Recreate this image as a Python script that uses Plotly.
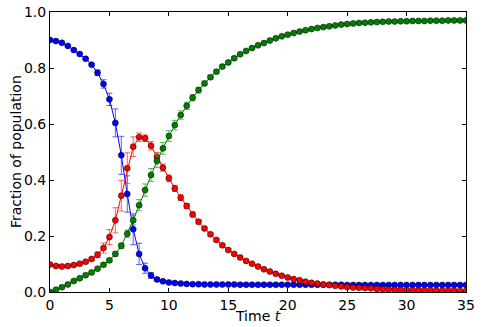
import numpy as np
import plotly.graph_objects as go

# time grid, step 0.5
t = np.arange(0, 35.5, 0.5)

susceptible = [0.900, 0.896, 0.890, 0.879, 0.864, 0.850, 0.833, 0.812, 0.783, 0.743,
               0.688, 0.604, 0.488, 0.350, 0.224, 0.136, 0.085, 0.059, 0.045, 0.038,
               0.034, 0.032, 0.030, 0.029, 0.028, 0.028, 0.027, 0.027, 0.027, 0.027,
               0.027, 0.027, 0.026, 0.026, 0.026, 0.026, 0.026, 0.026, 0.026, 0.026,
               0.026, 0.026, 0.026, 0.026, 0.026, 0.026, 0.026, 0.026, 0.026, 0.026,
               0.025, 0.025, 0.025, 0.025, 0.025, 0.025, 0.025, 0.025, 0.025, 0.025,
               0.025, 0.025, 0.025, 0.025, 0.025, 0.025, 0.025, 0.025, 0.025, 0.025,
               0.025]
susceptible_err = [0.002, 0.002, 0.002, 0.002, 0.002, 0.003, 0.003, 0.004, 0.010, 0.015,
                   0.022, 0.050, 0.068, 0.065, 0.055, 0.038, 0.018, 0.010, 0.006, 0.004,
                   0.003, 0.003, 0.002, 0.002, 0.002, 0.002, 0.002, 0.002, 0.002, 0.002,
                   0.002, 0.002, 0.002, 0.002, 0.002, 0.002, 0.002, 0.002, 0.002, 0.002,
                   0.002, 0.002, 0.002, 0.002, 0.002, 0.002, 0.002, 0.002, 0.002, 0.002,
                   0.002, 0.002, 0.002, 0.002, 0.002, 0.002, 0.002, 0.002, 0.002, 0.002,
                   0.002, 0.002, 0.002, 0.002, 0.002, 0.002, 0.002, 0.002, 0.002, 0.002,
                   0.002]

infected = [0.098, 0.093, 0.091, 0.093, 0.096, 0.101, 0.108, 0.118, 0.133, 0.157,
            0.196, 0.256, 0.344, 0.442, 0.519, 0.553, 0.549, 0.522, 0.483, 0.444,
            0.406, 0.370, 0.337, 0.307, 0.277, 0.251, 0.227, 0.206, 0.186, 0.167,
            0.150, 0.136, 0.123, 0.111, 0.101, 0.091, 0.081, 0.073, 0.065, 0.058,
            0.052, 0.046, 0.042, 0.037, 0.033, 0.030, 0.027, 0.025, 0.022, 0.020,
            0.018, 0.016, 0.015, 0.014, 0.013, 0.011, 0.010, 0.009, 0.008, 0.008,
            0.007, 0.007, 0.006, 0.006, 0.006, 0.005, 0.005, 0.005, 0.005, 0.004,
            0.004]
infected_err = [0.004, 0.004, 0.004, 0.004, 0.004, 0.004, 0.004, 0.006, 0.010, 0.018,
                0.027, 0.045, 0.055, 0.055, 0.035, 0.015, 0.012, 0.015, 0.015, 0.013,
                0.012, 0.011, 0.010, 0.009, 0.009, 0.008, 0.007, 0.007, 0.006, 0.006,
                0.005, 0.005, 0.005, 0.004, 0.004, 0.004, 0.004, 0.003, 0.003, 0.003,
                0.003, 0.003, 0.003, 0.002, 0.002, 0.002, 0.002, 0.002, 0.002, 0.002,
                0.002, 0.002, 0.002, 0.002, 0.002, 0.002, 0.002, 0.002, 0.002, 0.002,
                0.002, 0.002, 0.002, 0.002, 0.002, 0.002, 0.002, 0.002, 0.002, 0.002,
                0.002]

recovered = [0.000, 0.008, 0.017, 0.027, 0.039, 0.049, 0.060, 0.070, 0.083, 0.097,
             0.113, 0.136, 0.165, 0.208, 0.256, 0.310, 0.364, 0.418, 0.468, 0.513,
             0.557, 0.596, 0.632, 0.665, 0.694, 0.721, 0.745, 0.767, 0.787, 0.805,
             0.820, 0.835, 0.849, 0.861, 0.871, 0.881, 0.889, 0.898, 0.906, 0.913,
             0.919, 0.925, 0.930, 0.935, 0.939, 0.943, 0.946, 0.949, 0.952, 0.955,
             0.957, 0.959, 0.961, 0.962, 0.963, 0.964, 0.965, 0.966, 0.966, 0.967,
             0.967, 0.968, 0.968, 0.968, 0.969, 0.969, 0.969, 0.970, 0.970, 0.970,
             0.970]
recovered_err = [0.003, 0.003, 0.003, 0.003, 0.003, 0.003, 0.003, 0.003, 0.003, 0.004,
                 0.006, 0.008, 0.010, 0.013, 0.017, 0.020, 0.022, 0.023, 0.023, 0.021,
                 0.019, 0.017, 0.015, 0.013, 0.011, 0.010, 0.008, 0.007, 0.006, 0.006,
                 0.005, 0.005, 0.004, 0.004, 0.004, 0.003, 0.003, 0.003, 0.003, 0.003,
                 0.002, 0.002, 0.002, 0.002, 0.002, 0.002, 0.002, 0.002, 0.002, 0.002,
                 0.002, 0.002, 0.002, 0.002, 0.002, 0.002, 0.002, 0.002, 0.002, 0.002,
                 0.002, 0.002, 0.002, 0.002, 0.002, 0.002, 0.002, 0.002, 0.002, 0.002,
                 0.002]

series = [
    (susceptible, susceptible_err, '#0000ff', 'rgba(40,40,255,0.75)'),
    (infected, infected_err, '#ff0000', 'rgba(255,40,40,0.75)'),
    (recovered, recovered_err, '#007f00', 'rgba(40,160,40,0.75)'),
]

fig = go.Figure()
for vals, errs, col, ecol in series:
    fig.add_trace(go.Scatter(
        x=t, y=vals, mode='lines+markers',
        line=dict(color=col, width=1),
        marker=dict(color=col, size=6, line=dict(color='black', width=0.5)),
        error_y=dict(type='data', array=errs, color=ecol, thickness=1, width=3),
        showlegend=False,
    ))

axis_common = dict(showline=True, linecolor='black', linewidth=1, mirror='ticks',
                   ticks='inside', ticklen=4, tickcolor='black', showgrid=False,
                   zeroline=False, automargin=False,
                   tickfont=dict(size=14, color='black'))

fig.update_layout(
    width=485, height=327,
    margin=dict(l=50, r=19, t=12, b=35),
    plot_bgcolor='white', paper_bgcolor='white',
    font=dict(family='DejaVu Sans', size=14, color='black'),
    xaxis=dict(range=[0, 35], tickvals=[0, 5, 10, 15, 20, 25, 30, 35], **axis_common),
    yaxis=dict(range=[0, 1], tickvals=[0, 0.2, 0.4, 0.6, 0.8, 1.0], tickformat='.1f',
               **axis_common),
)

# axis titles placed by hand, matplotlib-style
fig.add_annotation(text='Time <i>t</i>', xref='paper', yref='paper', x=0.5, y=0,
                   yanchor='middle', yshift=-24, showarrow=False,
                   font=dict(size=14, color='black'))
fig.add_annotation(text='Fraction of population', xref='paper', yref='paper',
                   x=0, y=0.5, xanchor='center', xshift=-34, textangle=-90,
                   showarrow=False, font=dict(size=14, color='black'))

# drop the browser's default body margin so the figure fills the window
fig.write_html("out.html", config={'displayModeBar': False},
               post_script="document.body.style.margin = '0px';")
